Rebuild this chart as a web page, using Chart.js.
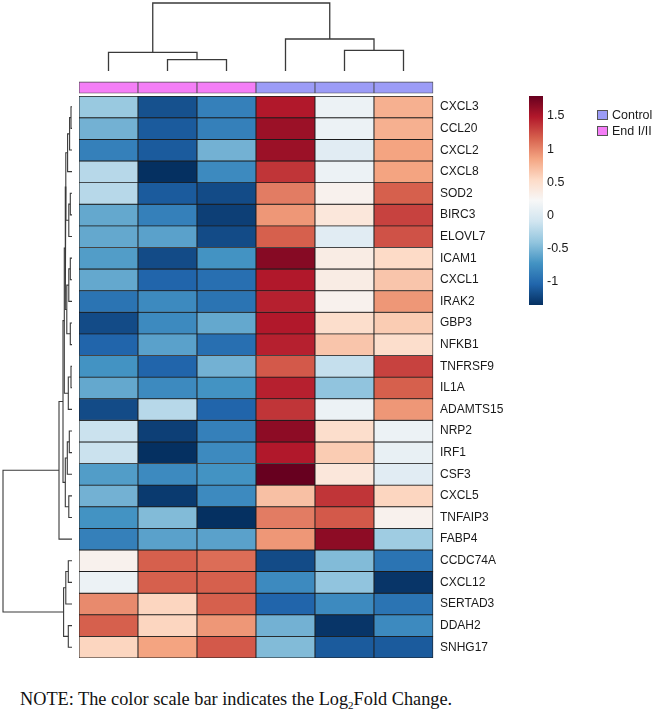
<!DOCTYPE html>
<html>
<head>
<meta charset="utf-8">
<script src="https://cdn.jsdelivr.net/npm/chart.js@4.4.1/dist/chart.umd.min.js"></script>
<style>
  html, body { margin: 0; padding: 0; background: #fff; }
  #page { position: relative; width: 657px; height: 723px; overflow: hidden; font-family: "Liberation Sans", Arial, sans-serif; }
  canvas { position: absolute; }
  .leg { position: absolute; left: 597px; font-size: 12.5px; color: #1a1a1a; line-height: 12px; }
  .leg span { display: inline-block; width: 9px; height: 8px; border: 1px solid #555; vertical-align: top; margin-right: 4px; margin-top: 1px; }
  #note { position: absolute; left: 20px; top: 689px; font-family: "Liberation Serif", "Times New Roman", serif; font-size: 18.3px; color: #111; white-space: nowrap; }
  #note sub { font-size: 11px; vertical-align: -4px; line-height: 0; }
</style>
</head>
<body>
<div id="page">
  <canvas id="colTree" width="354" height="72" style="left:79px;top:0px"></canvas>
  <canvas id="rowTree" width="79" height="562" style="left:0px;top:96px"></canvas>
  <canvas id="heat" width="578" height="578" style="left:79px;top:80px"></canvas>
  <canvas id="scaleBar" width="80" height="209" style="left:529px;top:96px"></canvas>
  <div class="leg" style="top:109px"><span style="background:#9c9cf7"></span>Control</div>
  <div class="leg" style="top:125px"><span style="background:#f47ef6"></span>End I/II</div>
  <div id="note">NOTE: The color scale bar indicates the Log<sub>2</sub>Fold Change.</div>
</div>
<script>
// genes top to bottom, samples left to right
const genes = ['CXCL3', 'CCL20', 'CXCL2', 'CXCL8', 'SOD2', 'BIRC3', 'ELOVL7', 'ICAM1', 'CXCL1', 'IRAK2',
    'GBP3', 'NFKB1', 'TNFRSF9', 'IL1A', 'ADAMTS15', 'NRP2', 'IRF1', 'CSF3', 'CXCL5', 'TNFAIP3',
    'FABP4', 'CCDC74A', 'CXCL12', 'SERTAD3', 'DDAH2', 'SNHG17'];
const samples = ['End1', 'End2', 'End3', 'Ctrl1', 'Ctrl2', 'Ctrl3'];
const groups = ['End I/II', 'End I/II', 'End I/II', 'Control', 'Control', 'Control'];
const groupColors = { 'Control': '#9c9cf7', 'End I/II': '#f47ef6' };

// log2 fold change, one row per gene
const logFC = [
    [-0.37, -1.16, -0.85, 1.49, 0.13, 0.79],
    [-0.53, -1.10, -0.85, 1.58, 0.13, 0.79],
    [-0.85, -1.10, -0.53, 1.58, 0.04, 0.86],
    [-0.22, -1.35, -0.78, 1.36, 0.13, 0.86],
    [-0.22, -1.10, -1.19, 1.04, 0.29, 1.17],
    [-0.59, -0.85, -1.26, 0.92, 0.41, 1.30],
    [-0.59, -0.63, -1.19, 1.17, 0.04, 1.23],
    [-0.66, -1.19, -0.72, 1.67, 0.35, 0.54],
    [-0.59, -1.04, -0.97, 1.49, 0.35, 0.67],
    [-0.94, -0.78, -0.94, 1.45, 0.29, 0.92],
    [-1.19, -0.78, -0.59, 1.49, 0.51, 0.63],
    [-1.04, -0.63, -0.97, 1.45, 0.67, 0.51],
    [-0.72, -1.04, -0.53, 1.20, -0.15, 1.30],
    [-0.59, -0.78, -0.72, 1.45, -0.41, 1.17],
    [-1.19, -0.22, -1.04, 1.36, 0.13, 0.92],
    [-0.12, -1.26, -0.85, 1.64, 0.51, 0.13],
    [-0.12, -1.35, -0.78, 1.49, 0.63, 0.10],
    [-0.66, -0.78, -0.72, 1.80, 0.41, 0.04],
    [-0.53, -1.29, -0.78, 0.70, 1.36, 0.57],
    [-0.72, -0.47, -1.35, 1.04, 1.20, 0.29],
    [-0.85, -0.63, -0.63, 0.92, 1.64, -0.34],
    [0.29, 1.17, 1.11, -1.19, -0.47, -0.94],
    [0.13, 1.17, 1.17, -0.78, -0.41, -1.32],
    [0.98, 0.57, 1.17, -1.04, -0.78, -0.94],
    [1.17, 0.57, 0.92, -0.53, -1.32, -0.78],
    [0.57, 0.86, 1.20, -0.47, -1.10, -1.10]
];

// colour scale range and its ticks
const scaleMin = -1.35;
const scaleMax = 1.8;
const scaleTicks = [-1, -0.5, 0, 0.5, 1, 1.5];
const palette = ['#053061', '#2166AC', '#4393C3', '#92C5DE', '#D1E5F0', '#F7F7F7',
    '#FDDBC7', '#F4A582', '#D6604D', '#B2182B', '#67001F'];

// hclust style merges (negative = leaf index, positive = earlier merge) and heights
const colMerge = [[-2, -3], [-1, 1], [-5, -6], [-4, 3], [2, 4]];
const colHeight = [1.13, 1.87, 2.07, 3.2, 6.8];
const rowMerge = [
    [-1, -2], [1, -3], [2, -4], [-5, -6], [4, -7], [3, 5], [-8, -9], [7, -10], [-11, -12], [8, 9],
    [6, 10], [-13, -14], [12, -15], [11, 13], [-16, -17], [15, -18], [-19, -20], [16, 17], [14, 18], [19, -21],
    [-22, -23], [21, -24], [-25, -26], [22, 23], [20, 24]
];
const rowHeight = [0.10, 0.24, 0.44, 0.17, 0.32, 0.62, 0.17, 0.32, 0.17, 0.52,
    0.67, 0.10, 0.37, 0.77, 0.27, 0.47, 0.32, 0.67, 0.90, 1.30,
    0.37, 0.62, 0.37, 0.84, 6.9];

function hexToRgb(h) {
    return [parseInt(h.slice(1, 3), 16), parseInt(h.slice(3, 5), 16), parseInt(h.slice(5, 7), 16)];
}

function colorOf(v) {
    let t = (v - scaleMin) / (scaleMax - scaleMin);
    t = Math.min(1, Math.max(0, t)) * (palette.length - 1);
    const i = Math.min(Math.floor(t), palette.length - 2);
    const f = t - i;
    const a = hexToRgb(palette[i]), b = hexToRgb(palette[i + 1]);
    const c = a.map((x, k) => Math.round(x + (b[k] - x) * f));
    return `rgb(${c[0]},${c[1]},${c[2]})`;
}

// turn a merge list into U-shaped segments: [leafPos, height] pairs
function dendroSegments(merge, heights) {
    const pos = [];
    const seg = [];
    const node = (id) => id < 0 ? { p: -id - 0.5, h: 0 } : { p: pos[id - 1], h: heights[id - 1] };
    merge.forEach(([a, b], k) => {
        const l = node(a), r = node(b), h = heights[k];
        pos.push((l.p + r.p) / 2);
        seg.push([[l.p, l.h], [l.p, h], [r.p, h], [r.p, r.h]]);
    });
    return seg;
}

// keep the plot area exactly where the canvas says (no label overhang padding)
function noLabelPad(s) {
    s.paddingTop = 0;
    s.paddingBottom = 0;
}

Chart.defaults.font.family = '"Liberation Sans", Arial, sans-serif';
Chart.defaults.color = '#1a1a1a';

const lineStyle = { showLine: true, pointRadius: 0, borderColor: '#3a3a3a', borderWidth: 1.1, clip: false, tension: 0 };
const noAxis = { display: false };

// column dendrogram
new Chart(document.getElementById('colTree'), {
    type: 'scatter',
    data: {
        datasets: dendroSegments(colMerge, colHeight).map(s => ({
            ...lineStyle,
            borderWidth: 1.3,
            data: s.map(([p, h]) => ({ x: p, y: h }))
        }))
    },
    options: {
        responsive: false, animation: false,
        layout: { padding: { top: 3, bottom: 1, left: 0, right: 0 } },
        plugins: { legend: { display: false }, tooltip: { enabled: false } },
        scales: {
            x: { ...noAxis, min: 0, max: samples.length },
            y: { ...noAxis, min: 0, max: Math.max(...colHeight) }
        }
    }
});

// row dendrogram
new Chart(document.getElementById('rowTree'), {
    type: 'scatter',
    data: {
        datasets: dendroSegments(rowMerge, rowHeight).map(s => ({
            ...lineStyle,
            data: s.map(([p, h]) => ({ x: h, y: p }))
        }))
    },
    options: {
        responsive: false, animation: false,
        layout: { padding: { top: 0, bottom: 0, left: 3, right: 7 } },
        plugins: { legend: { display: false }, tooltip: { enabled: false } },
        scales: {
            x: { ...noAxis, min: 0, max: Math.max(...rowHeight), reverse: true },
            y: { ...noAxis, min: 0, max: genes.length, reverse: true }
        }
    }
});

// heatmap cells as floating bars, one dataset per gene
const n = genes.length;
const cellSets = genes.map((g, r) => ({
    label: g,
    data: samples.map(() => [n - r - 1, n - r]),
    backgroundColor: logFC[r].map(colorOf),
    borderColor: '#1c1c1c',
    borderWidth: 0.8,
    borderSkipped: false
}));
cellSets.push({
    label: 'group',
    data: samples.map(() => [n + 0.14, n + 0.66]),
    backgroundColor: groups.map(g => groupColors[g]),
    borderColor: '#4a4a4a',
    borderWidth: 0.8,
    borderSkipped: false
});

new Chart(document.getElementById('heat'), {
    type: 'bar',
    data: { labels: samples, datasets: cellSets },
    options: {
        responsive: false, animation: false,
        layout: { padding: 0 },
        datasets: { bar: { grouped: false, barPercentage: 1, categoryPercentage: 1, clip: false } },
        plugins: { legend: { display: false }, tooltip: { enabled: false } },
        scales: {
            x: { display: false },
            y: {
                position: 'right',
                min: 0, max: n + 0.75,
                grid: { display: false, drawTicks: false },
                border: { display: false },
                afterFit: (s) => { s.width = 224; noLabelPad(s); },
                afterBuildTicks: (s) => { s.ticks = genes.map((g, i) => ({ value: n - i - 0.5 })); },
                ticks: {
                    autoSkip: false,
                    padding: 7,
                    color: '#1a1a1a',
                    font: { size: 12 },
                    callback: (v, i) => genes[i]
                }
            }
        }
    }
});

// colour key
new Chart(document.getElementById('scaleBar'), {
    type: 'bar',
    data: {
        labels: [''],
        datasets: [{
            data: [[scaleMin, scaleMax]],
            borderWidth: 0,
            backgroundColor: (c) => {
                const area = c.chart.chartArea;
                if (!area) return null;
                const grad = c.chart.ctx.createLinearGradient(0, area.bottom, 0, area.top);
                palette.forEach((col, i) => grad.addColorStop(i / (palette.length - 1), col));
                return grad;
            }
        }]
    },
    options: {
        responsive: false, animation: false,
        layout: { padding: 0 },
        datasets: { bar: { barPercentage: 1, categoryPercentage: 1 } },
        plugins: { legend: { display: false }, tooltip: { enabled: false } },
        scales: {
            x: { display: false },
            y: {
                position: 'right',
                min: scaleMin, max: scaleMax,
                grid: { display: false, drawTicks: false },
                border: { display: false },
                afterFit: (s) => { s.width = 66; noLabelPad(s); },
                afterBuildTicks: (s) => { s.ticks = scaleTicks.map(v => ({ value: v })); },
                ticks: { padding: 4, color: '#1a1a1a', font: { size: 12.5 }, callback: (v) => String(v) }
            }
        }
    }
});
</script>
</body>
</html>
